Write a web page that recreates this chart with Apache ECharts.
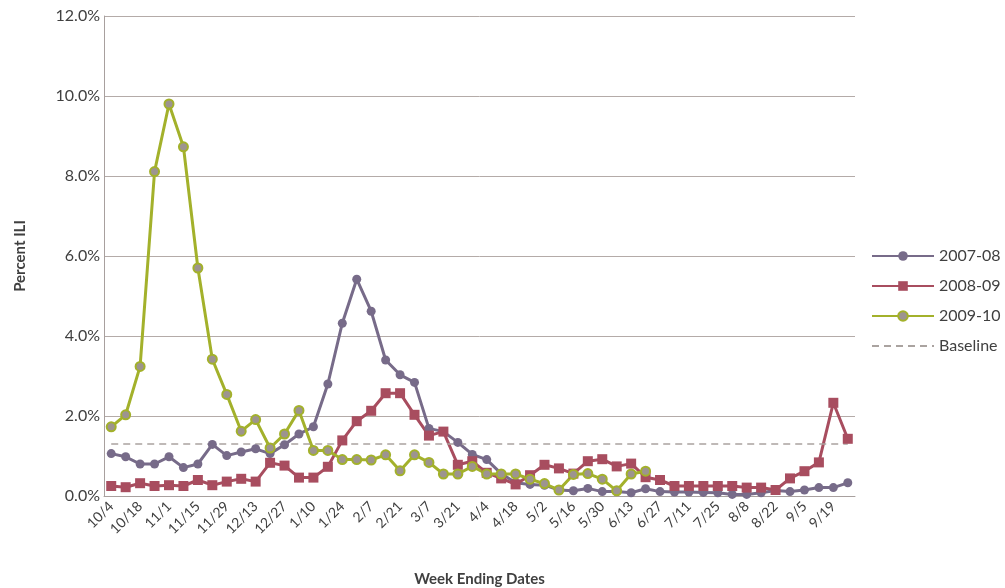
<!DOCTYPE html>
<html>
<head>
<meta charset="utf-8">
<script src="https://cdn.jsdelivr.net/npm/echarts@6/dist/echarts.min.js"></script>
<style>html,body{margin:0;padding:0;background:#fff}#c{width:1005px;height:588px}</style>
</head>
<body>
<div id="c"></div>
<script>
var weeks = ['10/4','10/11','10/18','10/25','11/1','11/8','11/15','11/22','11/29','12/6','12/13','12/20','12/27','1/3','1/10','1/17','1/24','1/31','2/7','2/14','2/21','2/28','3/7','3/14','3/21','3/28','4/4','4/11','4/18','4/25','5/2','5/9','5/16','5/23','5/30','6/6','6/13','6/20','6/27','7/4','7/11','7/18','7/25','8/1','8/8','8/15','8/22','8/29','9/5','9/12','9/19','9/26'];
var s2007 = [1.06,0.98,0.80,0.80,0.98,0.71,0.80,1.29,1.01,1.10,1.18,1.06,1.28,1.55,1.73,2.80,4.32,5.42,4.62,3.40,3.03,2.84,1.69,1.61,1.34,1.04,0.91,0.56,0.33,0.29,0.27,0.15,0.13,0.19,0.11,0.11,0.08,0.18,0.11,0.10,0.10,0.09,0.08,0.04,0.04,0.08,0.14,0.11,0.15,0.21,0.21,0.33];
var s2008 = [0.25,0.22,0.32,0.25,0.27,0.25,0.40,0.27,0.36,0.43,0.36,0.83,0.76,0.46,0.46,0.73,1.39,1.87,2.13,2.57,2.57,2.03,1.51,1.61,0.78,0.87,0.58,0.44,0.29,0.52,0.78,0.69,0.56,0.87,0.92,0.74,0.81,0.47,0.40,0.25,0.25,0.25,0.25,0.25,0.21,0.21,0.15,0.44,0.62,0.84,2.33,1.43];
var s2009 = [1.73,2.03,3.24,8.11,9.80,8.73,5.70,3.42,2.54,1.62,1.91,1.20,1.55,2.14,1.14,1.14,0.91,0.91,0.90,1.03,0.63,1.03,0.84,0.55,0.55,0.74,0.55,0.55,0.55,0.42,0.31,0.15,0.54,0.56,0.42,0.13,0.55,0.62];
var baselineValue = 1.3;
var baseline = weeks.map(function(){ return baselineValue; });
var yTicks = [0,2,4,6,8,10,12];

var font = 'Lato, "Open Sans", sans-serif';
var chart = echarts.init(document.getElementById('c'), null, {renderer:'canvas'});
chart.setOption({
  animation:false,
  backgroundColor:'#fff',
  grid:{left:104,right:150,top:16,bottom:92,containLabel:false,outerBoundsMode:'none'},
  legend:{
    orient:'vertical', left:866, top:243, itemWidth:62, itemHeight:12, itemGap:14,
    textStyle:{fontFamily:font,fontSize:16,color:'#404040'},
    data:['2007-08','2008-09','2009-10',{name:'Baseline',itemStyle:{opacity:0}}]
  },
  xAxis:{
    type:'category', data:weeks, boundaryGap:true,
    name:'Week Ending Dates', nameLocation:'middle', nameGap:76,
    nameTextStyle:{fontFamily:font,fontSize:15,fontWeight:'bold',color:'#404040'},
    axisLine:{lineStyle:{color:'#a8a09e',width:1}},
    axisTick:{show:false},
    axisLabel:{interval:1,rotate:45,fontFamily:font,fontSize:14,color:'#404040',margin:8}
  },
  yAxis:{
    type:'value', min:0, max:12, interval:2,
    name:'Percent ILI', nameLocation:'middle', nameGap:76, nameRotate:90,
    nameTextStyle:{fontFamily:font,fontSize:15,fontWeight:'bold',color:'#404040'},
    axisLine:{show:true,lineStyle:{color:'#a8a09e',width:1}},
    axisTick:{show:false},
    splitLine:{lineStyle:{color:'#b4aba8',width:1}},
    axisLabel:{fontFamily:font,fontSize:16,color:'#404040',margin:4,
      formatter:function(v){ return yTicks.indexOf(v)>=0 ? v.toFixed(1)+'%' : ''; }}
  },
  series:[
    {name:'2007-08',type:'line',data:s2007,symbol:'circle',symbolSize:9,showSymbol:true,showAllSymbol:true,
     lineStyle:{color:'#776b89',width:3},itemStyle:{color:'#776b89'}},
    {name:'2008-09',type:'line',data:s2008,symbol:'rect',symbolSize:10,showSymbol:true,showAllSymbol:true,
     lineStyle:{color:'#a84d5f',width:3},itemStyle:{color:'#a84d5f'}},
    {name:'2009-10',type:'line',data:s2009,symbol:'circle',symbolSize:9,showSymbol:true,showAllSymbol:true,
     lineStyle:{color:'#a3b12b',width:3},itemStyle:{color:'#9d948f',borderColor:'#a3b12b',borderWidth:2}},
    {name:'Baseline',type:'line',data:baseline,symbol:'none',
     lineStyle:{color:'#aaa3a0',width:1.3,type:[7,5]},itemStyle:{color:'#aaa3a0'}}
  ]
});
</script>
</body>
</html>
